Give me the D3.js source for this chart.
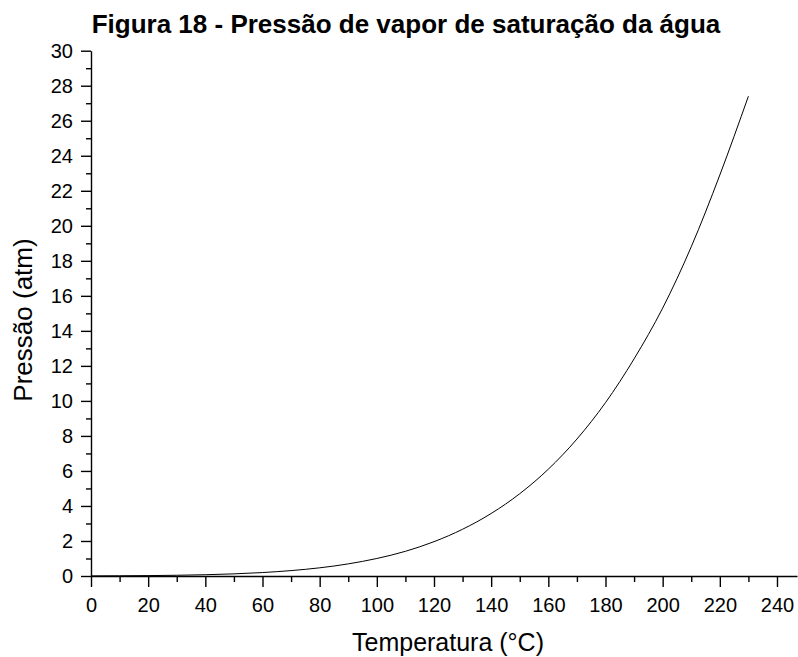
<!DOCTYPE html>
<html>
<head>
<meta charset="utf-8">
<script src="https://cdn.jsdelivr.net/npm/d3@7"></script>
<style>
  html, body { margin: 0; padding: 0; background: #fff; }
  svg { display: block; font-family: "Liberation Sans", Arial, sans-serif; }
</style>
</head>
<body>
<svg id="chart" width="798" height="657"></svg>
<script>
// Saturation vapour pressure of water, temperature in °C, pressure in atm
const temperatures = [0, 10, 20, 30, 40, 50, 60, 70, 80, 90, 100, 110, 120, 130, 140, 150, 160, 170, 180, 190, 200, 210, 220, 230];
const pressures = [0.006, 0.012, 0.023, 0.042, 0.073, 0.122, 0.197, 0.308, 0.467, 0.692, 1.0, 1.41, 1.96, 2.67, 3.57, 4.70, 6.10, 7.82, 9.90, 12.4, 15.3, 18.8, 22.9, 27.4];
const xTicks = [0, 20, 40, 60, 80, 100, 120, 140, 160, 180, 200, 220, 240];
const yTicks = [0, 2, 4, 6, 8, 10, 12, 14, 16, 18, 20, 22, 24, 26, 28, 30];

const svg = d3.select("#chart");
const plotLeft = 91, plotRight = 797, plotTop = 50.7, plotBottom = 576;
const fontFamily = "'Liberation Sans', Arial, sans-serif";

const x = d3.scaleLinear().domain([0, 247]).range([plotLeft, plotRight]);
const y = d3.scaleLinear().domain([0, 30]).range([plotBottom, plotTop]);

// minor ticks
const xMinor = d3.range(10, 247, 20);
const yMinor = d3.range(1, 30, 2);

svg.append("g")
  .attr("transform", `translate(0,${plotBottom})`)
  .call(d3.axisBottom(x).tickValues(xMinor).tickSize(6).tickFormat(""))
  .call(g => g.select(".domain").remove())
  .selectAll("line").attr("stroke", "#000").attr("stroke-width", 1.4);

svg.append("g")
  .attr("transform", `translate(${plotLeft},0)`)
  .call(d3.axisLeft(y).tickValues(yMinor).tickSize(5).tickFormat(""))
  .call(g => g.select(".domain").remove())
  .selectAll("line").attr("stroke", "#000").attr("stroke-width", 1.4);

// major axes
const xAxis = svg.append("g")
  .attr("transform", `translate(0,${plotBottom})`)
  .call(d3.axisBottom(x).tickValues(xTicks).tickSize(11).tickSizeOuter(0).tickPadding(11));
xAxis.select(".domain").attr("stroke", "#000").attr("stroke-width", 1.4);
xAxis.selectAll(".tick line").attr("stroke", "#000").attr("stroke-width", 1.4);
xAxis.selectAll(".tick text").attr("font-size", 20).attr("fill", "#000")
  .style("font-family", fontFamily);

const yAxis = svg.append("g")
  .attr("transform", `translate(${plotLeft},0)`)
  .call(d3.axisLeft(y).tickValues(yTicks).tickSize(10).tickSizeOuter(0).tickPadding(8));
yAxis.select(".domain").attr("stroke", "#000").attr("stroke-width", 1.4);
yAxis.selectAll(".tick line").attr("stroke", "#000").attr("stroke-width", 1.4);
yAxis.selectAll(".tick text").attr("font-size", 20).attr("fill", "#000")
  .style("font-family", fontFamily);

// curve
const points = temperatures.map((t, i) => [t, pressures[i]]);
svg.append("path")
  .datum(points)
  .attr("fill", "none")
  .attr("stroke", "#000")
  .attr("stroke-width", 1)
  .attr("d", d3.line().x(d => x(d[0])).y(d => y(d[1])).curve(d3.curveMonotoneX));

// titles
svg.append("text")
  .attr("x", 406).attr("y", 33)
  .attr("text-anchor", "middle")
  .attr("font-size", 26).attr("font-weight", "bold")
  .text("Figura 18 - Pressão de vapor de saturação da água");

svg.append("text")
  .attr("x", 448).attr("y", 651)
  .attr("text-anchor", "middle")
  .attr("font-size", 25)
  .text("Temperatura (°C)");

svg.append("text")
  .attr("transform", `translate(32,320) rotate(-90)`)
  .attr("text-anchor", "middle")
  .attr("font-size", 26)
  .text("Pressão (atm)");
</script>
</body>
</html>
